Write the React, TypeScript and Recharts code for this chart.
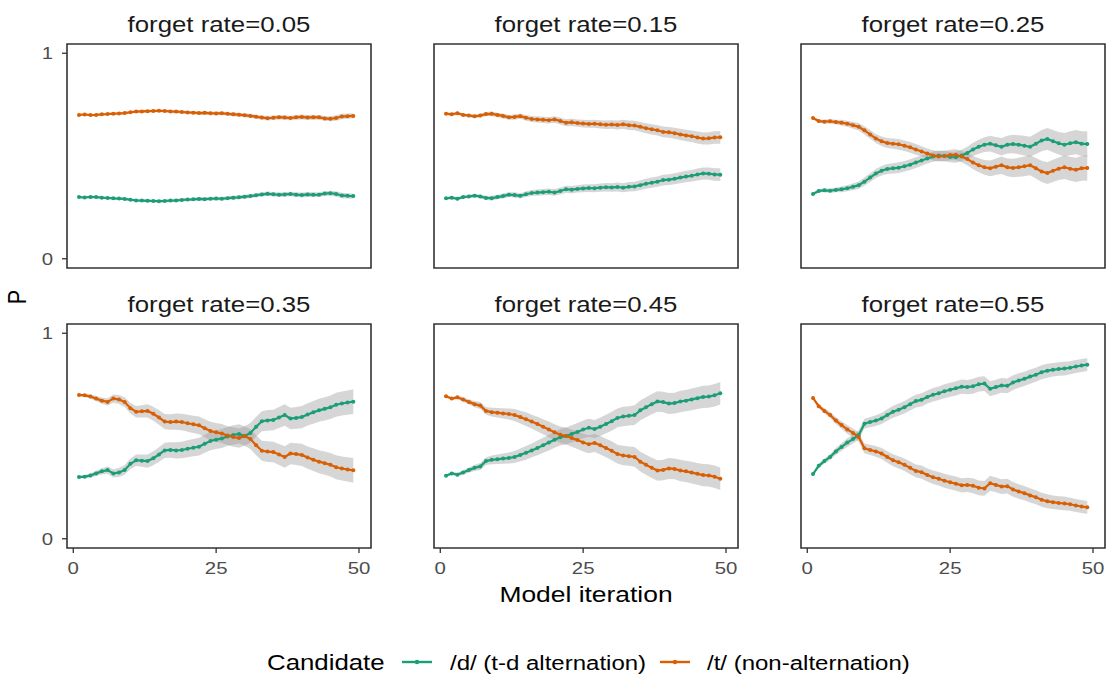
import React from 'react'
import { ComposedChart, Line, Area, XAxis, YAxis, ReferenceArea } from 'recharts'

// model iterations (x axis)
const iterations = [
  1, 2, 3, 4, 5, 6, 7, 8, 9, 10, 11, 12, 13, 14, 15, 16, 17, 18, 19, 20, 21, 22, 23, 24, 25,
  26, 27, 28, 29, 30, 31, 32, 33, 34, 35, 36, 37, 38, 39, 40, 41, 42, 43, 44, 45, 46, 47, 48, 49,
]

const forgetRates = ['0.05', '0.15', '0.25', '0.35', '0.45', '0.55']

// P(/d/) per forget rate
const dRate05 = [
  0.300, 0.298, 0.301, 0.300, 0.297, 0.296, 0.294, 0.293, 0.291, 0.287, 0.284, 0.283, 0.282, 0.281, 0.280, 0.281, 0.283,
  0.284, 0.286, 0.288, 0.289, 0.291, 0.290, 0.292, 0.293, 0.292, 0.295, 0.297, 0.299, 0.302, 0.305, 0.309, 0.313, 0.316,
  0.314, 0.311, 0.313, 0.315, 0.312, 0.310, 0.313, 0.311, 0.312, 0.317, 0.319, 0.315, 0.308, 0.306, 0.305,
]
const dRate15 = [
  0.294, 0.297, 0.292, 0.300, 0.303, 0.307, 0.303, 0.296, 0.295, 0.300, 0.305, 0.312, 0.310, 0.306, 0.314, 0.320, 0.322,
  0.324, 0.326, 0.322, 0.330, 0.338, 0.336, 0.340, 0.342, 0.344, 0.343, 0.346, 0.348, 0.347, 0.349, 0.346, 0.350, 0.352,
  0.358, 0.365, 0.370, 0.375, 0.383, 0.385, 0.389, 0.395, 0.400, 0.404, 0.410, 0.415, 0.414, 0.410, 0.409,
]
const dRate25 = [
  0.315, 0.330, 0.333, 0.331, 0.335, 0.338, 0.343, 0.350, 0.358, 0.375, 0.395, 0.415, 0.428, 0.437, 0.440, 0.443, 0.450,
  0.458, 0.468, 0.478, 0.488, 0.497, 0.502, 0.500, 0.495, 0.494, 0.502, 0.515, 0.532, 0.545, 0.555, 0.560, 0.552, 0.545,
  0.555, 0.558, 0.555, 0.550, 0.545, 0.560, 0.575, 0.583, 0.572, 0.562, 0.555, 0.562, 0.567, 0.560, 0.558,
]
const dRate35 = [
  0.300, 0.302, 0.308, 0.318, 0.328, 0.334, 0.318, 0.322, 0.335, 0.365, 0.382, 0.380, 0.378, 0.392, 0.410, 0.430, 0.432,
  0.430, 0.432, 0.438, 0.443, 0.448, 0.462, 0.476, 0.482, 0.488, 0.498, 0.505, 0.510, 0.500, 0.515, 0.545, 0.572, 0.576,
  0.578, 0.590, 0.602, 0.585, 0.588, 0.592, 0.605, 0.615, 0.625, 0.632, 0.640, 0.652, 0.658, 0.663, 0.667,
]
const dRate45 = [
  0.307, 0.318, 0.312, 0.322, 0.334, 0.345, 0.352, 0.378, 0.384, 0.387, 0.390, 0.393, 0.398, 0.408, 0.418, 0.430, 0.442,
  0.455, 0.468, 0.482, 0.494, 0.500, 0.510, 0.520, 0.532, 0.540, 0.534, 0.545, 0.558, 0.572, 0.588, 0.595, 0.598, 0.602,
  0.625, 0.640, 0.655, 0.668, 0.665, 0.658, 0.660, 0.668, 0.672, 0.678, 0.684, 0.690, 0.692, 0.698, 0.708,
]
const dRate55 = [
  0.315, 0.355, 0.378, 0.398, 0.425, 0.447, 0.468, 0.485, 0.505, 0.560, 0.568, 0.575, 0.585, 0.602, 0.618, 0.628, 0.640,
  0.655, 0.670, 0.676, 0.690, 0.701, 0.708, 0.718, 0.725, 0.732, 0.740, 0.738, 0.742, 0.752, 0.755, 0.730, 0.738, 0.746,
  0.744, 0.760, 0.770, 0.778, 0.789, 0.798, 0.810, 0.818, 0.822, 0.826, 0.828, 0.832, 0.838, 0.843, 0.847,
]

// P(/t/) per forget rate
const tRate05 = [
  0.700, 0.702, 0.699, 0.700, 0.703, 0.704, 0.706, 0.707, 0.709, 0.713, 0.716, 0.717, 0.718, 0.719, 0.720, 0.719, 0.717,
  0.716, 0.714, 0.712, 0.711, 0.709, 0.710, 0.708, 0.707, 0.708, 0.705, 0.703, 0.701, 0.698, 0.695, 0.691, 0.687, 0.684,
  0.686, 0.689, 0.687, 0.685, 0.688, 0.690, 0.687, 0.689, 0.688, 0.683, 0.681, 0.685, 0.692, 0.694, 0.695,
]
const tRate15 = [
  0.706, 0.703, 0.708, 0.700, 0.697, 0.693, 0.697, 0.704, 0.705, 0.700, 0.695, 0.688, 0.690, 0.694, 0.686, 0.680, 0.678,
  0.676, 0.674, 0.678, 0.670, 0.662, 0.664, 0.660, 0.658, 0.656, 0.657, 0.654, 0.652, 0.653, 0.651, 0.654, 0.650, 0.648,
  0.642, 0.635, 0.630, 0.625, 0.617, 0.615, 0.611, 0.605, 0.600, 0.596, 0.590, 0.585, 0.586, 0.590, 0.591,
]
const tRate25 = [
  0.685, 0.670, 0.667, 0.669, 0.665, 0.662, 0.657, 0.650, 0.642, 0.625, 0.605, 0.585, 0.572, 0.563, 0.560, 0.557, 0.550,
  0.542, 0.532, 0.522, 0.512, 0.503, 0.498, 0.500, 0.505, 0.506, 0.498, 0.485, 0.468, 0.455, 0.445, 0.440, 0.448, 0.455,
  0.445, 0.442, 0.445, 0.450, 0.455, 0.440, 0.425, 0.417, 0.428, 0.438, 0.445, 0.438, 0.433, 0.440, 0.442,
]
const tRate35 = [
  0.700, 0.698, 0.692, 0.682, 0.672, 0.666, 0.682, 0.678, 0.665, 0.635, 0.618, 0.620, 0.622, 0.608, 0.590, 0.570, 0.568,
  0.570, 0.568, 0.562, 0.557, 0.552, 0.538, 0.524, 0.518, 0.512, 0.502, 0.495, 0.490, 0.500, 0.485, 0.455, 0.428, 0.424,
  0.422, 0.410, 0.398, 0.415, 0.412, 0.408, 0.395, 0.385, 0.375, 0.368, 0.360, 0.348, 0.342, 0.337, 0.333,
]
const tRate45 = [
  0.693, 0.682, 0.688, 0.678, 0.666, 0.655, 0.648, 0.622, 0.616, 0.613, 0.610, 0.607, 0.602, 0.592, 0.582, 0.570, 0.558,
  0.545, 0.532, 0.518, 0.506, 0.500, 0.490, 0.480, 0.468, 0.460, 0.466, 0.455, 0.442, 0.428, 0.412, 0.405, 0.402, 0.398,
  0.375, 0.360, 0.345, 0.332, 0.335, 0.342, 0.340, 0.332, 0.328, 0.322, 0.316, 0.310, 0.308, 0.302, 0.292,
]
const tRate55 = [
  0.685, 0.645, 0.622, 0.602, 0.575, 0.553, 0.532, 0.515, 0.495, 0.440, 0.432, 0.425, 0.415, 0.398, 0.382, 0.372, 0.360,
  0.345, 0.330, 0.324, 0.310, 0.299, 0.292, 0.282, 0.275, 0.268, 0.260, 0.262, 0.258, 0.248, 0.245, 0.270, 0.262, 0.254,
  0.256, 0.240, 0.230, 0.222, 0.211, 0.202, 0.190, 0.182, 0.178, 0.174, 0.172, 0.168, 0.162, 0.157, 0.153,
]

// half width of the grey band per forget rate
const band05 = [
  0.004, 0.004, 0.005, 0.005, 0.005, 0.005, 0.006, 0.006, 0.006, 0.006, 0.006, 0.007, 0.007, 0.007, 0.007, 0.007, 0.008,
  0.008, 0.008, 0.008, 0.008, 0.008, 0.009, 0.009, 0.009, 0.009, 0.009, 0.010, 0.010, 0.010, 0.010, 0.010, 0.010, 0.011,
  0.011, 0.011, 0.011, 0.011, 0.011, 0.012, 0.012, 0.012, 0.012, 0.012, 0.012, 0.013, 0.013, 0.013, 0.013,
]
const band15 = [
  0.006, 0.007, 0.008, 0.008, 0.009, 0.009, 0.010, 0.010, 0.011, 0.011, 0.012, 0.012, 0.013, 0.013, 0.014, 0.014, 0.015,
  0.015, 0.016, 0.016, 0.017, 0.017, 0.018, 0.018, 0.019, 0.019, 0.020, 0.020, 0.021, 0.021, 0.022, 0.022, 0.023, 0.023,
  0.024, 0.024, 0.025, 0.025, 0.026, 0.026, 0.027, 0.027, 0.028, 0.028, 0.029, 0.029, 0.030, 0.030, 0.031,
]
const band25 = [
  0.006, 0.008, 0.010, 0.011, 0.012, 0.014, 0.015, 0.017, 0.018, 0.020, 0.021, 0.022, 0.023, 0.024, 0.025, 0.026, 0.026,
  0.026, 0.026, 0.025, 0.025, 0.025, 0.025, 0.025, 0.026, 0.027, 0.028, 0.030, 0.032, 0.034, 0.036, 0.038, 0.040, 0.042,
  0.043, 0.045, 0.046, 0.048, 0.049, 0.050, 0.052, 0.053, 0.054, 0.055, 0.057, 0.058, 0.059, 0.060, 0.062,
]
const band35 = [
  0.006, 0.008, 0.011, 0.013, 0.015, 0.018, 0.020, 0.022, 0.024, 0.026, 0.028, 0.030, 0.032, 0.034, 0.035, 0.037, 0.038,
  0.039, 0.040, 0.041, 0.042, 0.043, 0.044, 0.045, 0.045, 0.046, 0.046, 0.047, 0.047, 0.048, 0.048, 0.049, 0.049, 0.050,
  0.050, 0.051, 0.052, 0.052, 0.053, 0.054, 0.054, 0.055, 0.056, 0.056, 0.057, 0.058, 0.058, 0.059, 0.060,
]
const band45 = [
  0.005, 0.007, 0.009, 0.011, 0.013, 0.015, 0.017, 0.019, 0.021, 0.023, 0.025, 0.027, 0.029, 0.031, 0.033, 0.034, 0.036,
  0.037, 0.038, 0.039, 0.040, 0.041, 0.042, 0.043, 0.043, 0.044, 0.044, 0.045, 0.045, 0.046, 0.046, 0.047, 0.047, 0.048,
  0.048, 0.049, 0.049, 0.050, 0.050, 0.051, 0.051, 0.052, 0.052, 0.053, 0.053, 0.054, 0.054, 0.055, 0.055,
]
const band55 = [
  0.006, 0.010, 0.013, 0.015, 0.017, 0.019, 0.021, 0.022, 0.023, 0.024, 0.025, 0.026, 0.027, 0.028, 0.029, 0.030, 0.030,
  0.031, 0.031, 0.032, 0.032, 0.033, 0.033, 0.034, 0.034, 0.035, 0.035, 0.035, 0.036, 0.036, 0.036, 0.036, 0.036, 0.036,
  0.036, 0.036, 0.035, 0.035, 0.035, 0.034, 0.034, 0.034, 0.033, 0.033, 0.033, 0.032, 0.032, 0.032, 0.031,
]

const xTicks = [0, 25, 50]
const yTicks = [0, 1]

const GREEN = '#1b9e77'
const ORANGE = '#d95f02'
const FONT = '"Liberation Sans", Arial, Helvetica, sans-serif'
// the source picture is a bit wider than tall, so text is stretched sideways
const STRETCH = 1.2

const panels = [
  { rate: forgetRates[0], d: dRate05, t: tRate05, band: band05 },
  { rate: forgetRates[1], d: dRate15, t: tRate15, band: band15 },
  { rate: forgetRates[2], d: dRate25, t: tRate25, band: band25 },
  { rate: forgetRates[3], d: dRate35, t: tRate35, band: band35 },
  { rate: forgetRates[4], d: dRate45, t: tRate45, band: band45 },
  { rate: forgetRates[5], d: dRate55, t: tRate55, band: band55 },
]

// plot-area geometry
const colLeft = [67, 434, 801]
const rowTop = [44, 324]
const PW = 304
const PH = 224
const AXW = 45
const TOPPAD = 5
const AXH = 32
const X_DOM: [number, number] = [-1.1, 52.1]
const Y_DOM: [number, number] = [-0.045, 1.045]

const XTick = (props: any) => {
  const { x, y, payload } = props
  return (
    <text
      transform={`translate(${x},${y}) scale(${STRETCH},1)`}
      textAnchor="middle"
      dy="0.71em"
      fill="#4d4d4d"
      fontSize={17}
      fontFamily={FONT}
    >
      {payload.value}
    </text>
  )
}

const YTick = (props: any) => {
  const { x, y, payload } = props
  return (
    <text
      transform={`translate(${x},${y}) scale(${STRETCH},1)`}
      textAnchor="end"
      dy="0.36em"
      fill="#4d4d4d"
      fontSize={17}
      fontFamily={FONT}
    >
      {payload.value}
    </text>
  )
}

const Panel: React.FC<{ idx: number }> = ({ idx }) => {
  const p = panels[idx]
  const col = idx % 3
  const row = Math.floor(idx / 3)
  const showY = col === 0
  const showX = row === 1
  const data = iterations.map((x, i) => ({
    x,
    d: p.d[i],
    t: p.t[i],
    dBand: [p.d[i] - p.band[i], p.d[i] + p.band[i]],
    tBand: [p.t[i] - p.band[i], p.t[i] + p.band[i]],
  }))
  const left = colLeft[col]
  const top = rowTop[row]

  return (
    <>
      <div
        style={{
          position: 'absolute',
          left,
          top: top - 32,
          width: PW,
          textAlign: 'center',
          fontFamily: FONT,
          fontSize: 21.5,
          color: '#1a1a1a',
          lineHeight: '26px',
          whiteSpace: 'nowrap',
          transform: `scaleX(${STRETCH})`,
          transformOrigin: 'center',
        }}
      >
        forget rate={p.rate}
      </div>
      <div style={{ position: 'absolute', left: left - AXW, top: top - TOPPAD }}>
        <ComposedChart
          width={AXW + PW + 6}
          height={TOPPAD + PH + AXH}
          data={data}
          margin={{ top: TOPPAD, right: 6, bottom: 0, left: 0 }}
        >
          <XAxis
            dataKey="x"
            type="number"
            domain={X_DOM}
            ticks={xTicks}
            height={AXH}
            axisLine={false}
            tick={showX ? <XTick /> : false}
            tickLine={showX ? { stroke: '#333333', strokeWidth: 1.3 } : false}
            tickSize={5}
            tickMargin={9}
            allowDataOverflow
          />
          <YAxis
            type="number"
            domain={Y_DOM}
            ticks={yTicks}
            width={AXW}
            axisLine={false}
            tick={showY ? <YTick /> : false}
            tickLine={showY ? { stroke: '#333333', strokeWidth: 1.3 } : false}
            tickSize={5}
            tickMargin={9}
            allowDataOverflow
          />
          <Area dataKey="dBand" type="linear" fill="#999999" fillOpacity={0.4} stroke="none" isAnimationActive={false} />
          <Area dataKey="tBand" type="linear" fill="#999999" fillOpacity={0.4} stroke="none" isAnimationActive={false} />
          <Line
            dataKey="d"
            type="linear"
            stroke={GREEN}
            strokeWidth={2.2}
            dot={{ r: 2, fill: GREEN, stroke: 'none' }}
            isAnimationActive={false}
          />
          <Line
            dataKey="t"
            type="linear"
            stroke={ORANGE}
            strokeWidth={2.2}
            dot={{ r: 2, fill: ORANGE, stroke: 'none' }}
            isAnimationActive={false}
          />
          <ReferenceArea
            x1={X_DOM[0]}
            x2={X_DOM[1]}
            y1={Y_DOM[0]}
            y2={Y_DOM[1]}
            fill="none"
            fillOpacity={0}
            stroke="#333333"
            strokeWidth={1.6}
            ifOverflow="visible"
          />
        </ComposedChart>
      </div>
    </>
  )
}

const LegendKey: React.FC<{ color: string; left: number }> = ({ color, left }) => (
  <svg width={30} height={10} style={{ position: 'absolute', left, top: 657 }}>
    <line x1={0} y1={5} x2={30} y2={5} stroke={color} strokeWidth={2.4} />
    <circle cx={15} cy={5} r={2.2} fill={color} />
  </svg>
)

const legendText = (text: string, left: number, size: number) => (
  <div
    style={{
      position: 'absolute',
      left,
      top: size > 21 ? 649.5 : 650,
      fontSize: size,
      lineHeight: '26px',
      color: '#000',
      whiteSpace: 'nowrap',
      transform: `scaleX(${STRETCH})`,
      transformOrigin: 'left center',
    }}
  >
    {text}
  </div>
)

const App: React.FC = () => {
  return (
    <div
      style={{
        position: 'absolute',
        left: 0,
        top: 0,
        width: 1106,
        height: 675,
        overflow: 'hidden',
        background: '#ffffff',
        fontFamily: FONT,
      }}
    >
      {panels.map((_, i) => (
        <Panel key={i} idx={i} />
      ))}
      <div
        style={{
          position: 'absolute',
          left: 18 - 15,
          top: 297 - 13,
          width: 30,
          height: 26,
          fontSize: 21.5,
          lineHeight: '26px',
          textAlign: 'center',
          transform: `rotate(-90deg) scaleY(${STRETCH})`,
          color: '#000',
        }}
      >
        P
      </div>
      <div
        style={{
          position: 'absolute',
          left: 386,
          top: 582,
          width: 400,
          textAlign: 'center',
          fontSize: 22,
          lineHeight: '26px',
          color: '#000',
          whiteSpace: 'nowrap',
          transform: `scaleX(${STRETCH})`,
          transformOrigin: 'center',
        }}
      >
        Model iteration
      </div>
      {legendText('Candidate', 267, 21.5)}
      <LegendKey color={GREEN} left={402} />
      {legendText('/d/ (t-d alternation)', 450, 20)}
      <LegendKey color={ORANGE} left={660} />
      {legendText('/t/ (non-alternation)', 707, 20)}
    </div>
  )
}

export default App
